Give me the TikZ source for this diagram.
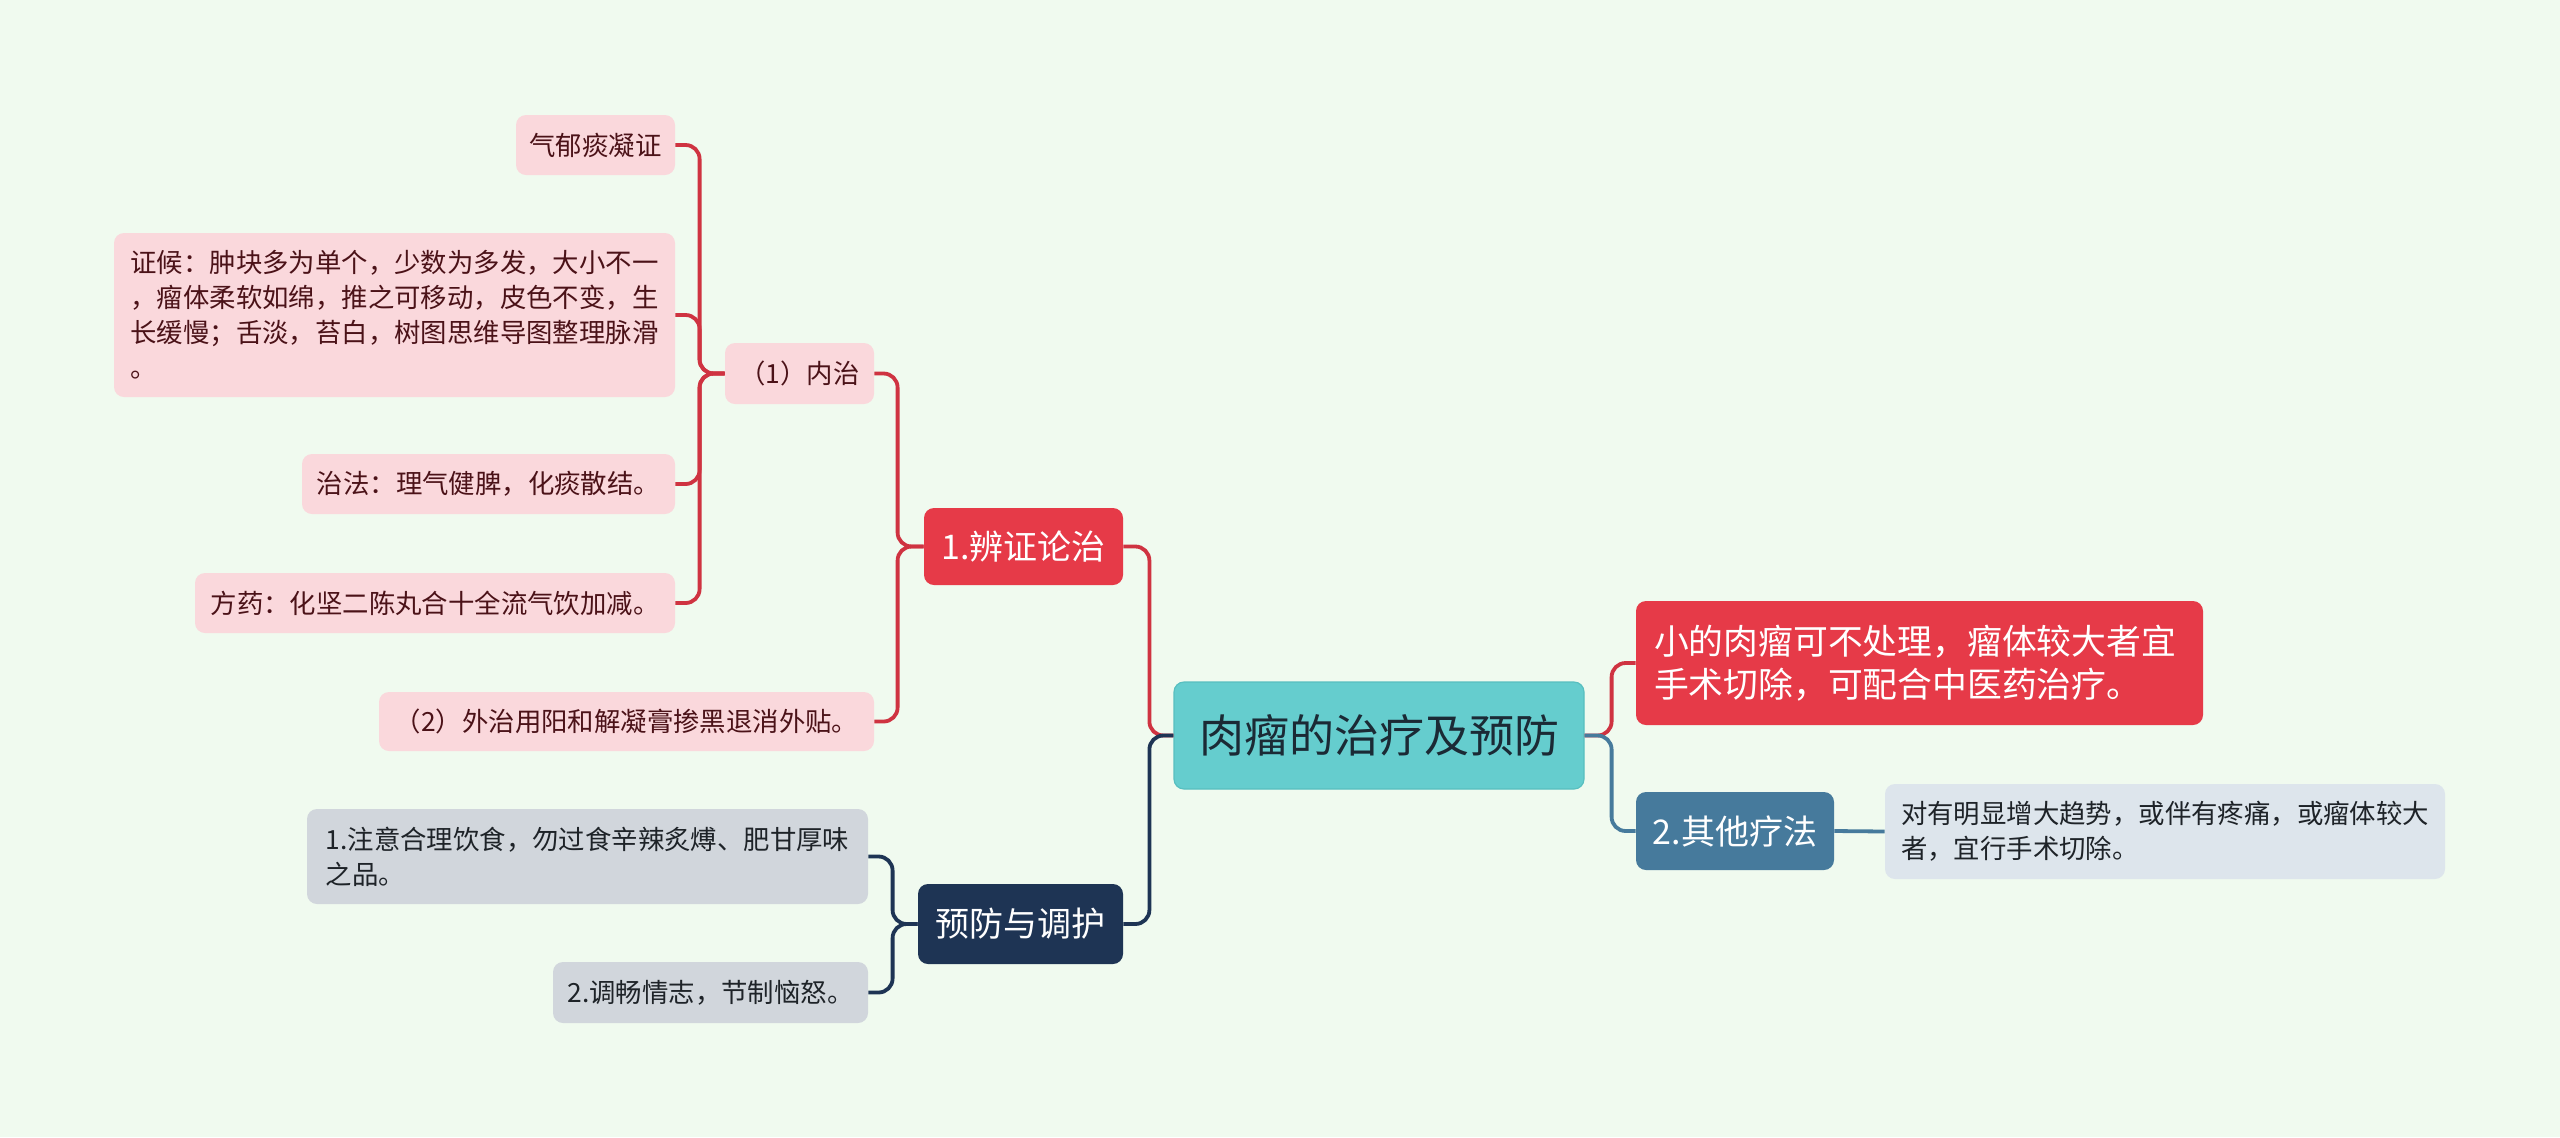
\documentclass[tikz,border=0pt]{standalone}
\usepackage{fontspec}
\setmainfont{Noto Sans CJK SC}
\definecolor{bg}{HTML}{F0FAEF}
\definecolor{teal}{HTML}{65CDCE}
\definecolor{tealedge}{HTML}{58BFC0}
\definecolor{nred}{HTML}{E63A48}
\definecolor{lred}{HTML}{CF3341}
\definecolor{navy}{HTML}{1E3454}
\definecolor{steel}{HTML}{467A9C}
\definecolor{pink}{HTML}{FAD8DC}
\definecolor{pinktxt}{HTML}{4B1218}
\definecolor{grayl}{HTML}{D1D6DC}
\definecolor{grayr}{HTML}{DDE5EC}
\definecolor{darktxt}{HTML}{1E2328}
\definecolor{roottxt}{HTML}{1B2A35}
\tikzset{
  sz/.style 2 args={minimum width={#1*0.5pt},minimum height={#2*0.5pt}},
  box/.style={rounded corners=5pt, inner sep=0pt, align=left},
  rootbox/.style={box, fill=teal, draw=tealedge, line width=0.6pt, text=roottxt,
    font=\fontsize{22.5pt}{27pt}\selectfont},
  lvone/.style={box, text=white, font=\fontsize{17pt}{21.5pt}\selectfont},
  pinkleaf/.style={box, fill=pink, text=pinktxt, font=\fontsize{13.2pt}{17.5pt}\selectfont},
  grayleaf/.style={box, fill=grayl, text=darktxt, font=\fontsize{13.2pt}{17.5pt}\selectfont},
  blueleaf/.style={box, fill=grayr, text=darktxt, font=\fontsize{13.2pt}{17.5pt}\selectfont},
  conn/.style={line width=1.9pt, rounded corners=7pt},
}
\begin{document}
\begin{tikzpicture}[x=0.5pt,y=-0.5pt]
\fill[bg] (0,0) rectangle (2560,1137);
\useasboundingbox (0,0) rectangle (2560,1137);

% root
\node[rootbox, sz={410}{107}] (root) at (1379,735.5) {肉瘤的治疗及预防};

% right side
\node[lvone, fill=nred, sz={567}{124}, inner xsep=9pt, text width=265.5pt,
  font=\fontsize{17.4pt}{21.5pt}\selectfont] (r1) at (1919.5,663)
  {小的肉瘤可不处理，瘤体较大者宜\\手术切除，可配合中医药治疗。};
\node[lvone, fill=steel, sz={198}{78}] (r2) at (1735,831) {2.其他疗法};
\node[blueleaf, sz={560}{95}] (r2a) at (2165,831.5)
  {对有明显增大趋势，或伴有疼痛，或瘤体较大\\者，宜行手术切除。};

% left side level 1
\node[lvone, fill=nred, sz={199}{77}] (b1) at (1023.5,546.5) {1.辨证论治};
\node[lvone, fill=navy, sz={205}{80}] (b2) at (1020.5,924) {预防与调护};

% level 2 under b1
\node[pinkleaf, sz={149}{61}] (n1) at (799.5,373.5) {（1）内治};
\node[pinkleaf, sz={495}{59}] (n2) at (626.5,721.5) {（2）外治用阳和解凝膏掺黑退消外贴。};

% leaves under n1
\node[pinkleaf, sz={159}{60}] (l1) at (595.5,145) {气郁痰凝证};
\node[pinkleaf, sz={561}{164}] (l2) at (394.5,315)
  {证候：肿块多为单个，少数为多发，大小不一\\，瘤体柔软如绵，推之可移动，皮色不变，生\\长缓慢；舌淡，苔白，树图思维导图整理脉滑\\。};
\node[pinkleaf, sz={373}{60}] (l3) at (488.5,484) {治法：理气健脾，化痰散结。};
\node[pinkleaf, sz={480}{60}] (l4) at (435,603) {方药：化坚二陈丸合十全流气饮加减。};

% leaves under b2
\node[grayleaf, sz={561}{95}] (p1) at (587.5,856.5)
  {1.注意合理饮食，勿过食辛辣炙煿、肥甘厚味\\之品。};
\node[grayleaf, sz={315}{61}] (p2) at (710.5,992.5) {2.调畅情志，节制恼怒。};

% connectors: root left
\draw[conn, lred] (root.west) -- ++(-24,0) |- (b1.east);
\draw[conn, navy] (root.west) -- ++(-24,0) |- (b2.east);
% root right
\draw[conn, lred] (root.east) -- ++(27,0) |- (r1.west);
\draw[conn, steel] (root.east) -- ++(27,0) |- (r2.west);
\draw[conn, steel] (r2.east) -- (r2a.west);
% b1
\draw[conn, lred] (b1.west) -- ++(-26,0) |- (n1.east);
\draw[conn, lred] (b1.west) -- ++(-26,0) |- (n2.east);
% n1
\draw[conn, lred] (n1.west) -- ++(-25,0) |- (l1.east);
\draw[conn, lred] (n1.west) -- ++(-25,0) |- (l2.east);
\draw[conn, lred] (n1.west) -- ++(-25,0) |- (l3.east);
\draw[conn, lred] (n1.west) -- ++(-25,0) |- (l4.east);
% b2
\draw[conn, navy] (b2.west) -- ++(-25,0) |- (p1.east);
\draw[conn, navy] (b2.west) -- ++(-25,0) |- (p2.east);
\end{tikzpicture}
\end{document}
